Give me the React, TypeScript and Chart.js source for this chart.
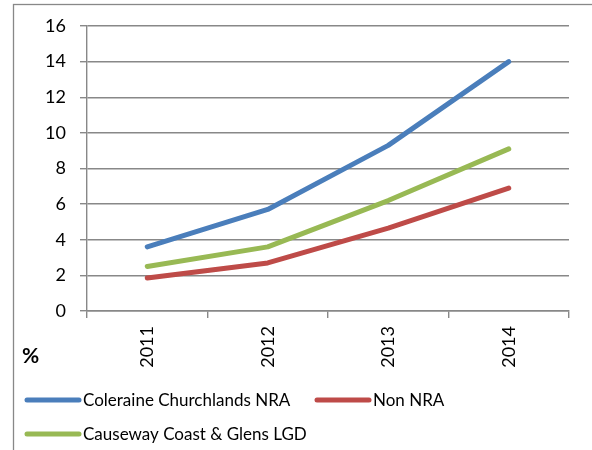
import React, { useEffect, useRef } from "react";
import { Chart, registerables } from "chart.js";

Chart.register(...registerables);

const categories = ["2011", "2012", "2013", "2014"];
const coleraine = [3.6, 5.7, 9.3, 14.0];
const nonNra = [1.85, 2.7, 4.65, 6.9];
const causeway = [2.5, 3.6, 6.2, 9.1];
const seriesNames = ["Coleraine Churchlands NRA", "Non NRA", "Causeway Coast & Glens LGD"];
const seriesColors = ["#4A7EBB", "#BE4B48", "#98B954"];
const yTicks = { min: 0, max: 16, step: 2 };

const FONT = "Lato, 'Open Sans', sans-serif";
const GRID = "#888888";

const decorPlugin = {
  id: "decor",
  afterDraw(chart: any) {
    const ctx = chart.ctx as CanvasRenderingContext2D;
    ctx.save();
    // outer border
    ctx.strokeStyle = GRID;
    ctx.lineWidth = 1.3;
    ctx.strokeRect(13.5, 4.5, 700, 600);
    // % label
    ctx.fillStyle = "#000";
    ctx.font = `bold 21px ${FONT}`;
    ctx.textAlign = "left";
    ctx.textBaseline = "middle";
    ctx.fillText("%", 22, 356);
    // legend
    const items = [
      { x: 25, y: 400 },
      { x: 315, y: 400 },
      { x: 25, y: 434 },
    ];
    ctx.font = `17px ${FONT}`;
    items.forEach((it, i) => {
      ctx.strokeStyle = seriesColors[i];
      ctx.lineWidth = 5;
      ctx.lineCap = "round";
      ctx.beginPath();
      ctx.moveTo(it.x + 2, it.y);
      ctx.lineTo(it.x + 54, it.y);
      ctx.stroke();
      ctx.fillStyle = "#000";
      ctx.fillText(seriesNames[i], it.x + 58, it.y + 1);
    });
    ctx.restore();
  },
};

export default function App() {
  const ref = useRef<HTMLCanvasElement | null>(null);
  useEffect(() => {
    if (!ref.current) return;
    const chart = new Chart(ref.current, {
      type: "line",
      data: {
        labels: categories,
        datasets: [coleraine, nonNra, causeway].map((d, i) => ({
          label: seriesNames[i],
          data: d,
          borderColor: seriesColors[i],
          backgroundColor: seriesColors[i],
          borderWidth: 5,
          pointRadius: 0,
          tension: 0,
          borderCapStyle: "round",
          borderJoinStyle: "round",
        })),
      },
      options: {
        responsive: false,
        animation: false,
        devicePixelRatio: 1,
        layout: { padding: { left: 0, top: 26, right: 23, bottom: 0 } },
        plugins: { legend: { display: false }, tooltip: { enabled: false } },
        scales: {
          x: {
            type: "category",
            offset: true,
            grid: {
              offset: true,
              drawOnChartArea: false,
              drawTicks: true,
              tickLength: 7,
              color: GRID,
              lineWidth: 1.4,
            },
            border: { color: GRID, width: 1.4 },
            ticks: {
              color: "#000",
              font: { family: FONT, size: 18 },
              minRotation: 90,
              maxRotation: 90,
              padding: 8,
            },
            afterFit: (s: any) => {
              s.height = 139;
            },
          },
          y: {
            min: yTicks.min,
            max: yTicks.max,
            ticks: {
              stepSize: yTicks.step,
              color: "#000",
              font: { family: FONT, size: 18 },
              padding: 14,
            },
            grid: { color: GRID, lineWidth: 1.4, tickLength: 7 },
            border: { color: GRID, width: 1.4 },
            afterFit: (s: any) => {
              s.width = 87;
            },
          },
        },
      },
      plugins: [decorPlugin],
    });
    return () => chart.destroy();
  }, []);
  return (
    <div style={{ position: "absolute", left: 0, top: 0, width: 592, height: 450, background: "#fff" }}>
      <canvas ref={ref} width={592} height={450} style={{ width: 592, height: 450 }} />
    </div>
  );
}
